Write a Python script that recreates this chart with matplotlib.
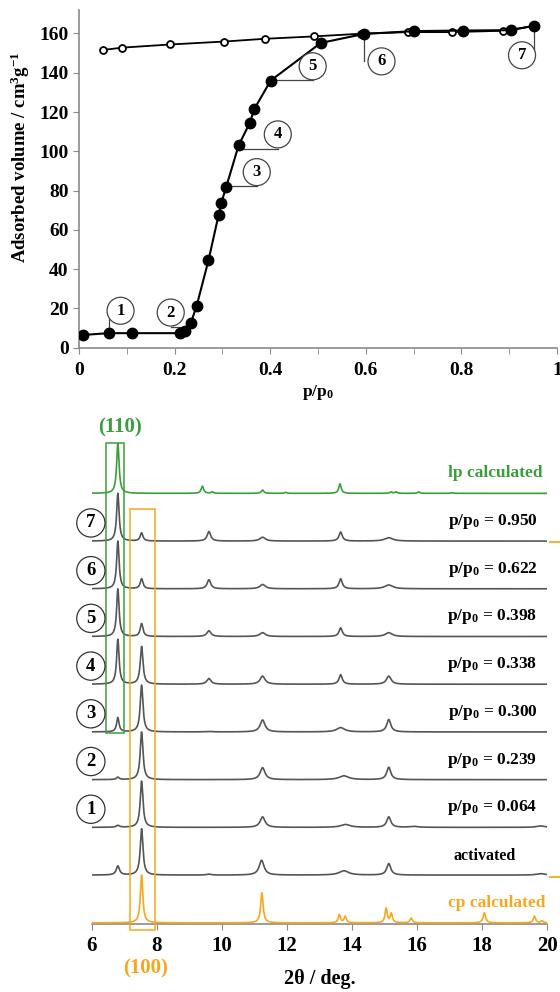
import matplotlib
matplotlib.use('Agg')
import matplotlib.pyplot as plt
import numpy as np
from matplotlib.lines import Line2D

plt.rcParams['font.family'] = ['Liberation Serif', 'DejaVu Serif']
plt.rcParams['font.weight'] = 'bold'
plt.rcParams['axes.labelweight'] = 'bold'
plt.rcParams['mathtext.fontset'] = 'custom'
plt.rcParams['mathtext.rm'] = 'Liberation Serif:bold'
plt.rcParams['mathtext.it'] = 'Liberation Serif:bold'
plt.rcParams['mathtext.bf'] = 'Liberation Serif:bold'

# isoterma - adsorção (pontos cheios)
p_ads = [0.009, 0.062, 0.112, 0.211, 0.222, 0.234, 0.246, 0.271, 0.292, 0.298, 0.308,
         0.334, 0.357, 0.367, 0.401, 0.506, 0.597, 0.701, 0.804, 0.904, 0.953]
v_ads = [6.5, 7.4, 7.4, 7.4, 8.3, 12.6, 21.1, 44.5, 67.4, 73.9, 81.8,
         103.0, 114.3, 121.6, 136.0, 155.2, 159.8, 161.2, 161.5, 161.7, 164.0]
# dessorção (pontos abertos)
p_des = [0.050, 0.091, 0.191, 0.304, 0.389, 0.491, 0.591, 0.689, 0.781, 0.888, 0.953]
v_des = [151.6, 152.8, 154.4, 155.9, 157.3, 158.5, 159.9, 160.7, 160.7, 161.4, 163.8]

# rótulos numerados na isoterma: (nome, índice do ponto, centro x, centro y, estilo)
callouts = [('1', 1, 0.087, 18.8, 'side'), ('2', 4, 0.192, 17.9, 'below'),
            ('3', 10, 0.372, 89.4, 'below'), ('4', 11, 0.416, 108.6, 'below'),
            ('5', 14, 0.489, 143.3, 'below'), ('6', 16, 0.633, 145.8, 'side'),
            ('7', 20, 0.927, 148.9, 'side')]

# difratogramas: picos (2theta, altura, largura)
peaks_cp = [(7.53, 1.0, 0.09), (11.23, 0.63, 0.09), (13.61, 0.17, 0.08), (13.79, 0.13, 0.08),
            (15.05, 0.30, 0.08), (15.21, 0.19, 0.08), (15.82, 0.10, 0.08), (18.07, 0.21, 0.09),
            (19.61, 0.14, 0.08), (19.84, 0.04, 0.08)]
peaks_act = [(6.80, 0.19, 0.12), (7.53, 0.97, 0.10), (9.6, 0.02, 0.15), (11.22, 0.31, 0.18),
             (13.75, 0.09, 0.35), (15.13, 0.24, 0.15), (19.8, 0.03, 0.3)]
peaks_1 = [(6.80, 0.04, 0.12), (7.53, 0.97, 0.10), (11.25, 0.22, 0.18), (13.8, 0.06, 0.35),
           (15.13, 0.22, 0.15), (15.9, 0.02, 0.3), (19.8, 0.03, 0.3)]
peaks_2 = [(6.80, 0.05, 0.10), (7.53, 1.0, 0.10), (11.25, 0.25, 0.18), (13.75, 0.08, 0.35),
           (15.13, 0.26, 0.15)]
peaks_3 = [(6.80, 0.30, 0.09), (7.53, 0.98, 0.10), (9.6, 0.01, 0.2), (11.25, 0.25, 0.18),
           (13.65, 0.09, 0.3), (15.13, 0.26, 0.15)]
peaks_4 = [(6.80, 0.94, 0.09), (7.53, 0.79, 0.10), (9.6, 0.12, 0.15), (11.25, 0.17, 0.18),
           (13.65, 0.20, 0.12), (15.13, 0.17, 0.17)]
peaks_5 = [(6.80, 1.0, 0.09), (7.53, 0.27, 0.10), (9.6, 0.12, 0.15), (11.25, 0.08, 0.2),
           (13.65, 0.18, 0.12), (15.13, 0.08, 0.25)]
peaks_6 = [(6.80, 1.0, 0.09), (7.53, 0.21, 0.10), (9.6, 0.19, 0.13), (11.25, 0.09, 0.2),
           (13.65, 0.21, 0.12), (15.13, 0.08, 0.3)]
peaks_7 = [(6.80, 1.0, 0.09), (7.53, 0.17, 0.10), (9.6, 0.20, 0.13), (11.25, 0.08, 0.2),
           (13.65, 0.19, 0.12), (15.13, 0.07, 0.3)]
peaks_lp = [(6.80, 1.05, 0.09), (9.40, 0.15, 0.09), (9.70, 0.03, 0.08), (11.25, 0.07, 0.09),
            (11.96, 0.02, 0.08), (13.63, 0.20, 0.09), (15.2, 0.03, 0.08), (15.35, 0.03, 0.08),
            (16.05, 0.03, 0.08), (17.08, 0.015, 0.08)]

xrd_peaks = [peaks_cp, peaks_act, peaks_1, peaks_2, peaks_3, peaks_4, peaks_5, peaks_6, peaks_7, peaks_lp]
xrd_labels = ['cp calculated', 'activated', 'p/p$_0$ = 0.064', 'p/p$_0$ = 0.239', 'p/p$_0$ = 0.300',
              'p/p$_0$ = 0.338', 'p/p$_0$ = 0.398', 'p/p$_0$ = 0.622', 'p/p$_0$ = 0.950', 'lp calculated']
xrd_numbers = ['', '', '1', '2', '3', '4', '5', '6', '7', '']

verde = '#3a9e3a'
laranja = '#f7a71e'
cinza = '#555555'
eixo = '#8a8a8a'

fig = plt.figure(figsize=(5.6, 9.92), dpi=100)

# ---------------- isoterma ----------------
ax1 = fig.add_axes([0.141, 0.6495, 0.8535, 0.3405])
ax1.plot(p_des, v_des, '-o', color='black', lw=1.3, ms=5, mfc='white', mec='black', mew=1.3, zorder=3)
ax1.plot(p_ads, v_ads, '-o', color='black', lw=1.5, ms=7.5, mfc='black', mec='black', zorder=4)
ax1.set_xlim(0, 1)
ax1.set_ylim(0, 172)
ax1.set_xticks(np.arange(0, 1.01, 0.2))
ax1.set_xticklabels(['0', '0.2', '0.4', '0.6', '0.8', '1'])
ax1.set_xticks(np.arange(0.1, 1.0, 0.2), minor=True)
ax1.set_yticks(np.arange(0, 161, 20))
ax1.tick_params(axis='both', which='both', direction='out', length=4, color=eixo, labelsize=14)
ax1.tick_params(axis='x', pad=6)
for s in ['top', 'right']:
    ax1.spines[s].set_visible(False)
for s in ['left', 'bottom']:
    ax1.spines[s].set_color(eixo)
    ax1.spines[s].set_linewidth(1.2)
ax1.set_ylabel('Adsorbed volume / cm$^3$g$^{-1}$', fontsize=13.5)
ax1.yaxis.set_label_coords(-0.098, 0.565)
ax1.set_xlabel('p/p$_0$', fontsize=12.5, labelpad=3)

r_y = 7.2
for nome, i, cx, cy, estilo in callouts:
    px, py = p_ads[i], v_ads[i]
    if estilo == 'side':
        xs, ys = [px, px], [py, cy]
    else:
        xs, ys = [px, px, cx], [py, cy - r_y, cy - r_y]
    ax1.plot(xs, ys, color='#444444', lw=0.9, zorder=2)
    ax1.text(cx, cy, nome, ha='center', va='center', fontsize=12, zorder=5,
             bbox=dict(boxstyle='circle,pad=0.33', fc='white', ec='#444444', lw=0.9))

# ---------------- difratogramas ----------------
ax2 = fig.add_axes([0.164, 0.0, 0.813, 0.5652])
tt = np.linspace(6, 20, 3000)
for k, picos in enumerate(xrd_peaks):
    y = np.zeros_like(tt)
    for pos, h, w in picos:
        y += h / (1 + ((tt - pos) / (w / 2)) ** 2)
    if k == 0:
        cor = laranja
    elif k == len(xrd_peaks) - 1:
        cor = verde
    else:
        cor = cinza
    ax2.plot(tt, y + k, color=cor, lw=1.2, zorder=3)
    if k == 0:
        ax2.text(19.95, k + 0.41, xrd_labels[k], color=laranja, ha='right', va='center', fontsize=12.5)
    elif k == len(xrd_peaks) - 1:
        ax2.text(19.85, k + 0.42, xrd_labels[k], color=verde, ha='right', va='center', fontsize=12.5)
    elif k == 1:
        ax2.text(19.05, k + 0.41, xrd_labels[k], color='black', ha='right', va='center', fontsize=11.5)
    else:
        ax2.text(19.7, k + 0.41, xrd_labels[k], color='black', ha='right', va='center', fontsize=12.5)
    if xrd_numbers[k]:
        ax2.text(5.97, k + 0.38, xrd_numbers[k], ha='center', va='center', fontsize=13.5, zorder=5,
                 bbox=dict(boxstyle='circle,pad=0.3', fc='white', ec='#333333', lw=0.9), clip_on=False)

ax2.add_patch(plt.Rectangle((6.44, 3.97), 0.55, 6.09, fill=False, ec=verde, lw=1.1, zorder=4, clip_on=False))
ax2.add_patch(plt.Rectangle((7.16, -0.15), 0.77, 8.82, fill=False, ec=laranja, lw=1.1, zorder=4, clip_on=False))
ax2.text(6.86, 10.39, '(110)', color=verde, ha='center', va='center', fontsize=15)
ax2.text(7.64, -0.95, '(100)', color=laranja, ha='center', va='center', fontsize=15)

ax2.set_xlim(6, 20)
ax2.set_ylim(-1.45, 10.3)
ax2.set_xticks(np.arange(6, 21, 2))
ax2.set_yticks([])
ax2.tick_params(axis='x', direction='out', length=4, color=eixo, labelsize=15, pad=5)
for s in ['top', 'right', 'left']:
    ax2.spines[s].set_visible(False)
ax2.spines['bottom'].set_position(('data', -0.02))
ax2.spines['bottom'].set_color(eixo)
ax2.spines['bottom'].set_linewidth(1.2)
ax2.set_xlabel('2θ / deg.', fontsize=14.5, labelpad=9)
ax2.patch.set_alpha(0)

# traços laranja na borda direita
for yy in [541.7, 877.0]:
    fig.add_artist(Line2D([550 / 560, 1.0], [1 - yy / 992, 1 - yy / 992], color=laranja, lw=1.3))

fig.savefig('out.png', dpi=100)
